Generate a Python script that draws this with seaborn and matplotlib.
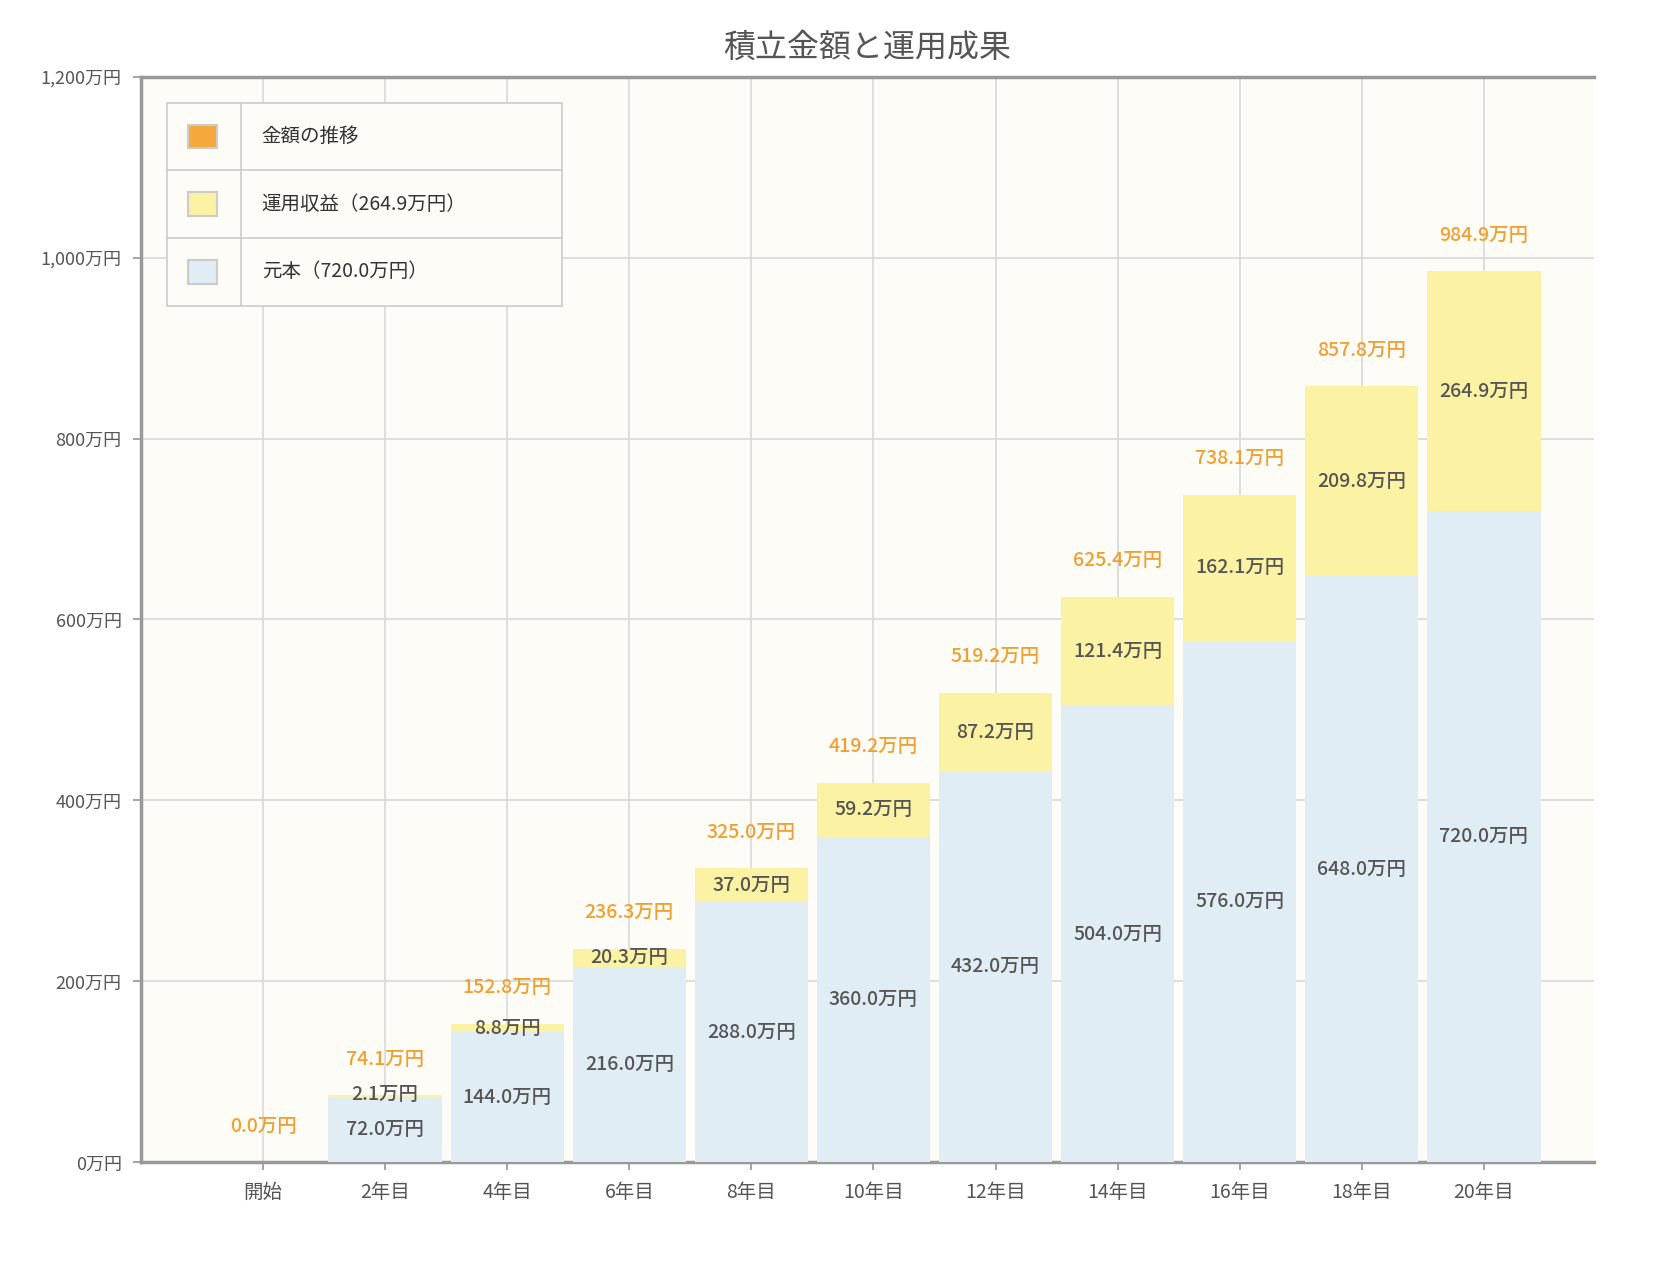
import numpy as np
import pandas as pd
import matplotlib.pyplot as plt
import seaborn as sns
from matplotlib.patches import Rectangle

years = ['開始', '2年目', '4年目', '6年目', '8年目', '10年目', '12年目', '14年目', '16年目', '18年目', '20年目']
principal = [0.0, 72.0, 144.0, 216.0, 288.0, 360.0, 432.0, 504.0, 576.0, 648.0, 720.0]
profit = [0.0, 2.1, 8.8, 20.3, 37.0, 59.2, 87.2, 121.4, 162.1, 209.8, 264.9]
total = [0.0, 74.1, 152.8, 236.3, 325.0, 419.2, 519.2, 625.4, 738.1, 857.8, 984.9]
yticks = [0, 200, 400, 600, 800, 1000, 1200]
legend_labels = ['金額の推移', '運用収益（264.9万円）', '元本（720.0万円）']
legend_colors = ['#f5a93a', '#fbf3a3', '#e0edf4']

df = pd.DataFrame({'year': years, 'principal': principal, 'profit': profit, 'total': total})

sns.set_theme(style='white')
plt.rcParams['font.family'] = ['Noto Sans CJK JP', 'DejaVu Sans']

fig = plt.figure(figsize=(16.6, 12.76), dpi=100)
ax = fig.add_axes([0.085, 0.089, 0.875, 0.851])
ax.set_facecolor('#fdfcf6')

sns.barplot(data=df, x='year', y='total', color='#fbf3a3', saturation=1, width=0.93,
            linewidth=0, ax=ax, zorder=3)
sns.barplot(data=df, x='year', y='principal', color='#e0edf4', saturation=1, width=0.93,
            linewidth=0, ax=ax, zorder=4)

txt = '#555555'
for i in range(len(years)):
    ax.text(i, total[i] + 40, f'{total[i]:.1f}万円', ha='center', va='center', color='#f0a030',
            fontsize=14, fontweight='medium', zorder=6)
    if principal[i] > 0:
        ax.text(i, principal[i] / 2, f'{principal[i]:.1f}万円', ha='center', va='center', color=txt,
                fontsize=14, fontweight='medium', zorder=6)
        ax.text(i, principal[i] + profit[i] / 2 + (2 if profit[i] < 5 else 0), f'{profit[i]:.1f}万円',
                ha='center', va='center', color=txt, fontsize=14, fontweight='medium', zorder=6)

ax.set_xlim(-1, 10.9)
ax.set_ylim(0, 1200)
ax.set_yticks(yticks)
ax.set_yticklabels([f'{v:,}万円' for v in yticks], fontsize=13, color=txt)
ax.set_xticks(range(len(years)))
ax.set_xticklabels(years, fontsize=14, color=txt)
ax.tick_params(axis='both', length=6, color='#999999', direction='out', bottom=True, left=True, pad=8)
ax.grid(True, color='#d8d8d8', linewidth=1.2, zorder=0)
ax.set_axisbelow(True)
ax.set_xlabel('')
ax.set_ylabel('')
for s in ['left', 'bottom', 'top']:
    ax.spines[s].set_color('#999999')
    ax.spines[s].set_linewidth(2.5)
ax.spines['right'].set_visible(False)

ax.set_title('積立金額と運用成果', fontsize=23, color='#555555', pad=14)

# table-like legend
x0, x1, xdiv = 0.0175, 0.29, 0.0685
ytop, rowh = 0.976, 0.0623
ax.add_patch(Rectangle((x0, ytop - 3 * rowh), x1 - x0, 3 * rowh, transform=ax.transAxes,
                       facecolor='#fdfcf6', edgecolor='#cccccc', linewidth=1.2, zorder=10))
ax.plot([xdiv, xdiv], [ytop, ytop - 3 * rowh], transform=ax.transAxes, color='#cccccc', lw=1.2, zorder=11)
for k in range(3):
    yc = ytop - (k + 0.5) * rowh
    if k > 0:
        ax.plot([x0, x1], [ytop - k * rowh] * 2, transform=ax.transAxes, color='#cccccc', lw=1.2, zorder=11)
    ax.add_patch(Rectangle((0.032, yc - 0.011), 0.02, 0.022, transform=ax.transAxes,
                           facecolor=legend_colors[k], edgecolor='#cccccc', linewidth=1.5, zorder=12))
    ax.text(0.083, yc, legend_labels[k], transform=ax.transAxes, va='center', ha='left',
            fontsize=14, color='#333333', zorder=12)

fig.savefig('out.png', dpi=100)
